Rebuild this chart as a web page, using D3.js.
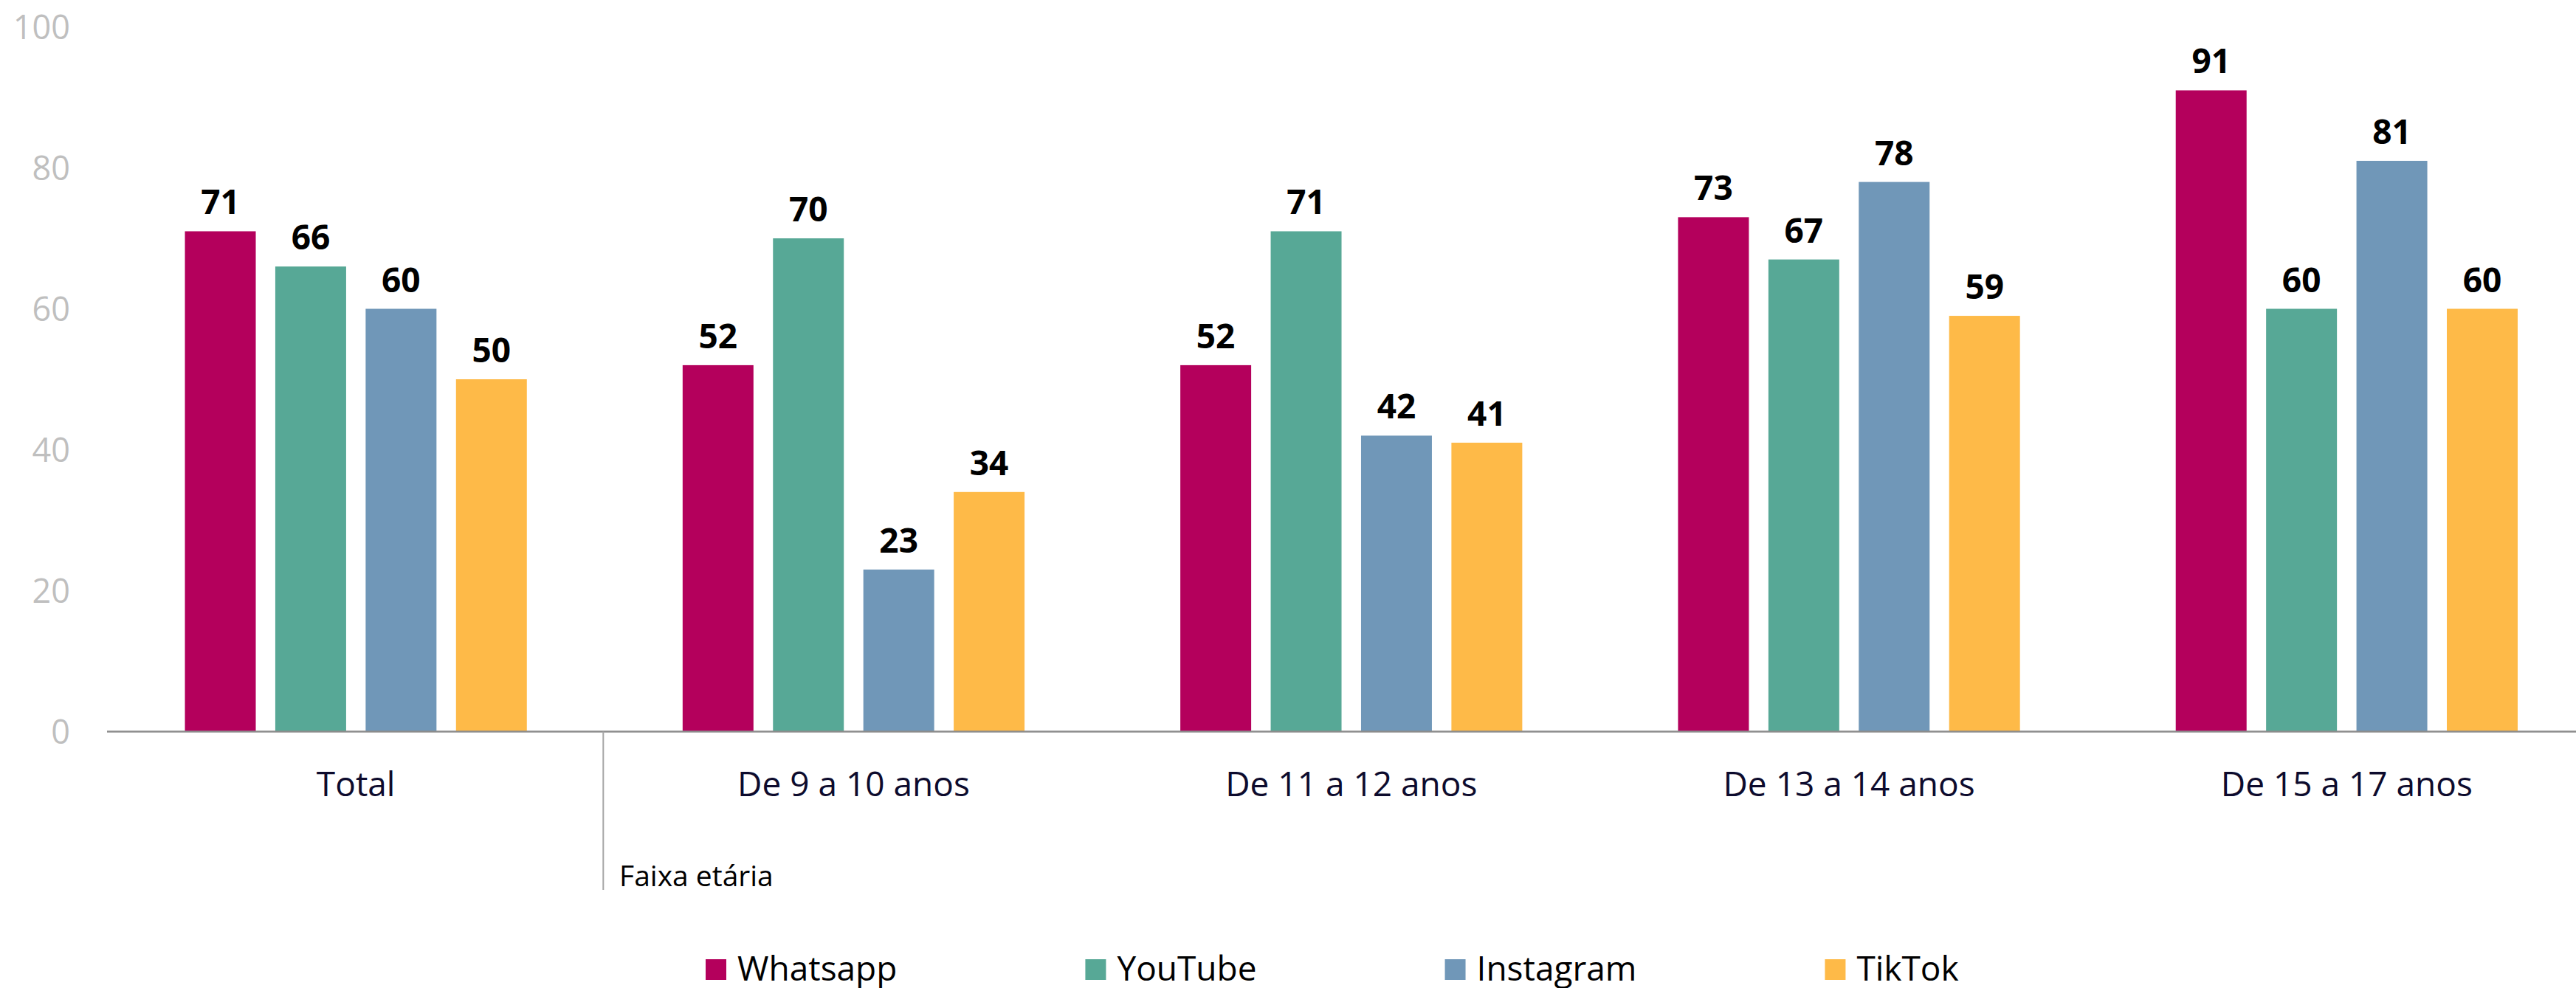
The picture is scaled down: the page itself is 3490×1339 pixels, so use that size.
<!DOCTYPE html>
<html><head><meta charset="utf-8">
<script src="https://cdn.jsdelivr.net/npm/d3@7"></script>
<style>html,body{margin:0;padding:0;background:#fff;overflow:hidden}</style>
</head><body>
<svg id="chart" width="3490" height="1339"></svg>
<script>
const categories = ["Total", "De 9 a 10 anos", "De 11 a 12 anos", "De 13 a 14 anos", "De 15 a 17 anos"];
const seriesNames = ["Whatsapp", "YouTube", "Instagram", "TikTok"];
const whatsapp  = [71, 52, 52, 73, 91];
const youtube   = [66, 70, 71, 67, 60];
const instagram = [60, 23, 42, 78, 81];
const tiktok    = [50, 34, 41, 59, 60];
const yTicks = [0, 20, 40, 60, 80, 100];
const axisTitle = "Faixa etária";
const colors = ["#B4005C", "#57A896", "#7097B8", "#FEBA48"];

const seriesValues = [whatsapp, youtube, instagram, tiktok];
const FONT = "'Open Sans', 'Noto Sans', sans-serif";

const W = 3490, H = 1339;
const left = 145, groupStep = 674.3;
const svg = d3.select("#chart");

const x0 = d3.scaleBand().domain(categories)
  .range([left, left + groupStep * categories.length]).paddingInner(0).paddingOuter(0);
const x1 = d3.scaleBand().domain(seriesNames)
  .range([0, x0.bandwidth()]).paddingInner(0.216).paddingOuter(0.862);
const y = d3.scaleLinear().domain([0, 100]).range([991.5, 36.5]);
const color = d3.scaleOrdinal().domain(seriesNames).range(colors);

// y tick labels (no axis line)
const yAxis = d3.axisLeft(y).tickValues(yTicks).tickSize(0).tickPadding(0);
const gy = svg.append("g").attr("transform", "translate(95,0)").call(yAxis);
gy.select(".domain").remove();
gy.selectAll("text").attr("font-family", FONT).attr("font-size", 45)
  .attr("fill", "#BFBFBF").attr("dy", "0.35em");

// bars
const data = [];
categories.forEach((c, i) => seriesNames.forEach((s, j) => data.push({c, s, v: seriesValues[j][i]})));

const gBars = svg.append("g");
gBars.selectAll("rect").data(data).join("rect")
  .attr("x", d => x0(d.c) + x1(d.s))
  .attr("y", d => y(d.v))
  .attr("width", x1.bandwidth())
  .attr("height", d => y(0) - y(d.v))
  .attr("fill", d => color(d.s));

gBars.selectAll("text").data(data).join("text")
  .attr("x", d => x0(d.c) + x1(d.s) + x1.bandwidth() / 2)
  .attr("y", d => y(d.v) - 23)
  .attr("text-anchor", "middle")
  .attr("font-family", FONT).attr("font-size", 46).attr("font-weight", 700)
  .attr("fill", "#000")
  .text(d => d3.format(".0f")(d.v));

// baseline
svg.append("line").attr("x1", left).attr("x2", W).attr("y1", y(0)).attr("y2", y(0))
  .attr("stroke", "#8C8C8C").attr("stroke-width", 2.5);

// separator line between Total and age groups
const sepX = x0(categories[1]) - 2;
svg.append("line").attr("x1", sepX).attr("x2", sepX).attr("y1", y(0)).attr("y2", 1206)
  .attr("stroke", "#A6A6A6").attr("stroke-width", 2);

// category labels
const xAxis = d3.axisBottom(x0).tickSize(0).tickPadding(0);
const gx = svg.append("g").attr("transform", `translate(0,${y(0)})`).call(xAxis);
gx.select(".domain").remove();
gx.selectAll("text").attr("font-family", FONT).attr("font-size", 46)
  .attr("fill", "#0D0B2D").attr("y", 1079 - y(0)).attr("dy", 0);

// axis title
svg.append("text").attr("x", 839).attr("y", 1201)
  .attr("font-family", FONT).attr("font-size", 39).attr("fill", "#000")
  .text(axisTitle);

// legend
const legend = svg.append("g");
let lx = 956;
seriesNames.forEach((s, i) => {
  legend.append("rect").attr("x", lx).attr("y", 1300).attr("width", 28).attr("height", 28)
    .attr("fill", color(s));
  const t = legend.append("text").attr("x", lx + 43).attr("y", 1329)
    .attr("font-family", FONT).attr("font-size", 46).attr("fill", "#000").text(s);
  const tw = t.node().getComputedTextLength();
  lx = lx + 43 + tw + 255;
});
</script>
</body></html>
